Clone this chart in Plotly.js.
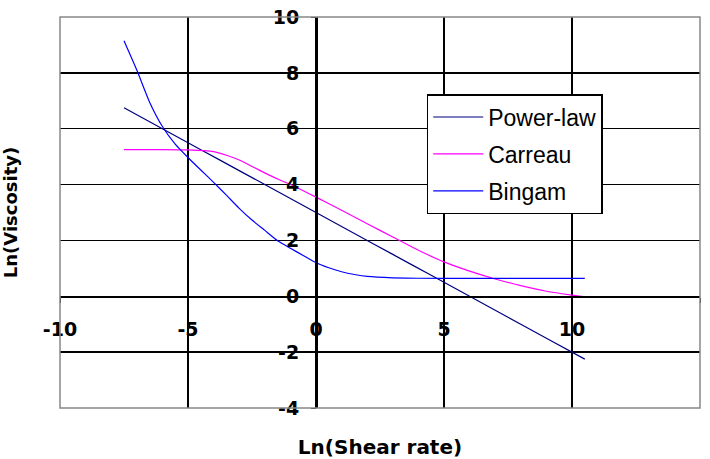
<!DOCTYPE html>
<html>
<head>
<meta charset="utf-8">
<script src="https://cdn.plot.ly/plotly-3.0.1.min.js"></script>
<style>html,body{margin:0;padding:0;background:#fff;}#chart{width:710px;height:459px;}</style>
</head>
<body>
<div id="chart"></div>
<script>
// Data
const seriesNames = ["Power-law", "Carreau", "Bingam"];

const xPower = [-7.5, -6, -4.5, -3, -1.5, 0, 1.5, 3, 4.5, 6, 7.5, 9, 10.5];
const yPower = [6.75, 6.0, 5.25, 4.5, 3.75, 3.0, 2.25, 1.5, 0.75, 0.0, -0.75, -1.5, -2.25];

const xCarreau = [-7.5, -6, -5, -4, -3.5, -3, -2.5, -2, -1.5, -1, -0.5, 0, 1, 2, 3, 4, 5, 6, 7, 8, 9, 10, 10.5];
const yCarreau = [5.25, 5.25, 5.24, 5.18, 5.05, 4.88, 4.65, 4.42, 4.2, 4.0, 3.78, 3.55, 3.08, 2.6, 2.12, 1.65, 1.23, 0.9, 0.62, 0.38, 0.18, 0.04, -0.02];

const xBingam = [-7.5, -7, -6.5, -6, -5.5, -5, -4.5, -4, -3.5, -3, -2.5, -2, -1.5, -1, -0.5, 0, 0.5, 1, 1.5, 2, 3, 4, 6, 8, 10.5];
const yBingam = [9.15, 8.1, 6.95, 6.08, 5.45, 4.97, 4.52, 4.08, 3.62, 3.15, 2.73, 2.36, 1.99, 1.72, 1.46, 1.2, 1.02, 0.88, 0.78, 0.71, 0.66, 0.645, 0.64, 0.64, 0.64];

const xTicks = [-10, -5, 0, 5, 10, 15];
const yTicks = [-4, -2, 0, 2, 4, 6, 8, 10];
const xRange = [-10, 15];
const yRange = [-4, 10];

const colors = ["#000080", "#FF00FF", "#0000FF"];

const traces = [
  {x: xPower, y: yPower, name: seriesNames[0], legendgroup: "a"},
  {x: xCarreau, y: yCarreau, name: seriesNames[1], legendgroup: "b"},
  {x: xBingam, y: yBingam, name: seriesNames[2], legendgroup: "c"}
].map((t, i) => Object.assign(t, {
  type: "scatter", mode: "lines",
  line: {color: colors[i], width: 1.2, shape: "spline", smoothing: 0.5}
}));

const tickFont = {family: "DejaVu Sans, Arial, sans-serif", size: 19, color: "#000", weight: "bold"};
const xTitleFont = {family: "DejaVu Sans, Arial, sans-serif", size: 20, color: "#000", weight: "bold"};
const yTitleFont = {family: "DejaVu Sans, Arial, sans-serif", size: 18, color: "#000", weight: "bold"};

const layout = {
  width: 710, height: 459,
  margin: {l: 60, r: 10, t: 17, b: 51},
  paper_bgcolor: "#fff", plot_bgcolor: "#fff",
  showlegend: true,
  legend: {
    x: 0.573, y: 0.803, xanchor: "left", yanchor: "top",
    bgcolor: "#fff", bordercolor: "#000", borderwidth: 1.5,
    font: {family: "Liberation Sans, Arial, sans-serif", size: 23, color: "#000"},
    tracegroupgap: 4, itemwidth: 50, entrywidth: 150, entrywidthmode: "pixels"
  },
  xaxis: {
    range: xRange, tickmode: "array", tickvals: xTicks, ticktext: xTicks.map(String),
    anchor: "free", position: (0 - yRange[0]) / (yRange[1] - yRange[0]),
    showgrid: true, gridcolor: "#000", gridwidth: 1.5,
    zeroline: false, showline: true, linecolor: "#000", linewidth: 1.5,
    ticks: "outside", ticklen: 5, tickcolor: "#000",
    ticklabelstandoff: 10,
    tickfont: tickFont,
    title: {text: "Ln(Shear rate)", font: xTitleFont, standoff: 104}
  },
  yaxis: {
    range: yRange, tickmode: "array", tickvals: yTicks, ticktext: yTicks.map(String),
    anchor: "free", position: (0 - xRange[0]) / (xRange[1] - xRange[0]),
    showgrid: true, gridcolor: "#000", gridwidth: 1.5,
    zeroline: false, showline: true, linecolor: "#000", linewidth: 1.5,
    ticks: "outside", ticklen: 5, tickcolor: "#000",
    ticklabelstandoff: 8,
    tickfont: tickFont,
    title: {text: "Ln(Viscosity)", font: yTitleFont, standoff: 250}
  },
  shapes: [{
    type: "rect", xref: "paper", yref: "paper", x0: 0, y0: 0, x1: 1, y1: 1,
    line: {color: "#888", width: 1.5}, layer: "above"
  }]
};

Plotly.newPlot("chart", traces, layout, {displayModeBar: false, staticPlot: true});
</script>
</body>
</html>
